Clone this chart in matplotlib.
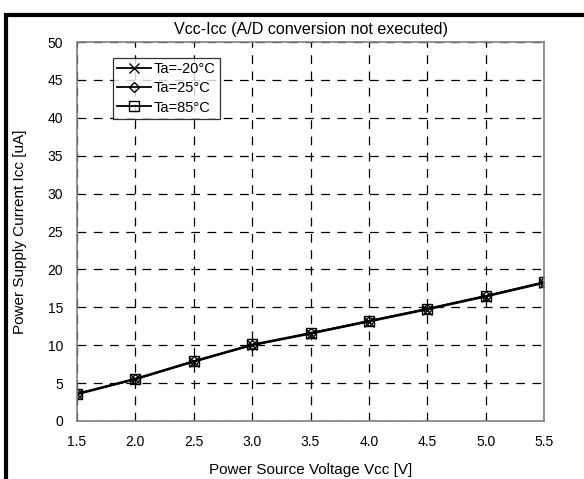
import matplotlib
matplotlib.use("Agg")
import matplotlib.pyplot as plt
from matplotlib.patches import Rectangle

plt.rcParams['font.family'] = ['Liberation Sans', 'DejaVu Sans']

# data
vcc = [1.5, 2.0, 2.5, 3.0, 3.5, 4.0, 4.5, 5.0, 5.5]
icc_m20 = [3.5, 5.5, 7.8, 10.0, 11.5, 13.1, 14.7, 16.4, 18.2]
icc_25 = [3.6, 5.5, 7.9, 10.0, 11.6, 13.2, 14.8, 16.5, 18.3]
icc_85 = [3.6, 5.6, 7.9, 10.1, 11.6, 13.2, 14.8, 16.5, 18.3]
labels = ['Ta=-20°C', 'Ta=25°C', 'Ta=85°C']
markers = ['x', 'D', 's']
x_ticks = [1.5, 2.0, 2.5, 3.0, 3.5, 4.0, 4.5, 5.0, 5.5]
y_ticks = [0, 5, 10, 15, 20, 25, 30, 35, 40, 45, 50]

fig = plt.figure(figsize=(5.84, 4.79), dpi=100)
ax = fig.add_axes([77 / 584, 1 - 421 / 479, (544 - 77) / 584, (421 - 42) / 479])

for ys, lab, mk in zip([icc_m20, icc_25, icc_85], labels, markers):
    ax.plot(vcc, ys, color='black', linewidth=1.3, marker=mk,
            markersize=7 if mk != 'D' else 5, markerfacecolor='none',
            markeredgecolor='black', markeredgewidth=1, label=lab)

ax.set_xlim(1.5, 5.5)
ax.set_ylim(0, 50)
ax.set_xticks(x_ticks)
ax.set_xticklabels([f"{v:.1f}" for v in x_ticks])
ax.set_yticks(y_ticks)
ax.tick_params(length=0, labelsize=10, pad=10)
ax.grid(True, color='black', linestyle=(0, (7, 6)), linewidth=0.9)
for s in ax.spines.values():
    s.set_color('#808080')
    s.set_linewidth(1.2)

ax.set_title('Vcc-Icc (A/D conversion not executed)', fontsize=11.6, pad=6)
ax.set_xlabel('Power Source Voltage Vcc [V]', fontsize=11, labelpad=10)
ax.set_ylabel('Power Supply Current Icc [uA]', fontsize=11, labelpad=15)

leg = ax.legend(loc='upper left', bbox_to_anchor=(0.077, 0.958), fontsize=10.5,
                frameon=True, fancybox=False, handlelength=2.3, handletextpad=0.2,
                borderpad=0.3, labelspacing=0.35, borderaxespad=0)
leg.get_frame().set_edgecolor('black')
leg.get_frame().set_linewidth(0.9)

# outer frame of the original sheet
fig.patches.append(Rectangle((5.5 / 584, -0.1), 1.2, 1 - 15.5 / 479 + 0.1,
                             transform=fig.transFigure, fill=False,
                             edgecolor='black', linewidth=3, clip_on=False))

fig.savefig('out.png', dpi=100)
